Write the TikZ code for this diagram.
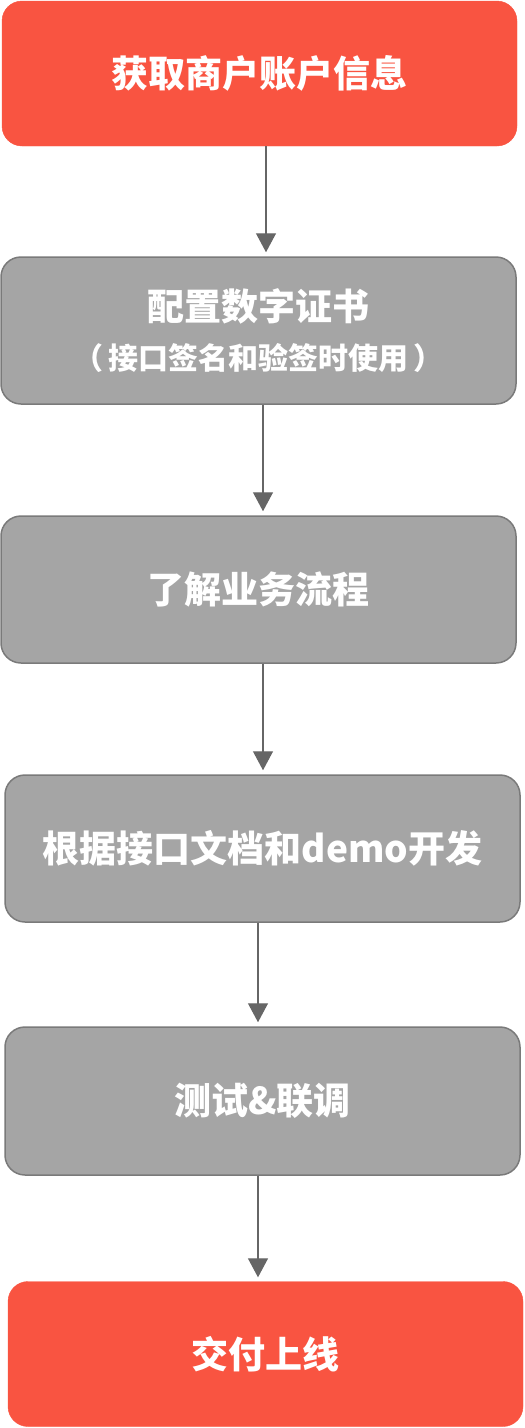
\documentclass[tikz,border=0pt]{standalone}
\usepackage{fontspec}
\setmainfont{Noto Sans CJK SC}
\usetikzlibrary{arrows.meta, positioning}
\definecolor{stepred}{HTML}{F95441}
\definecolor{stepgray}{HTML}{A5A5A5}
\definecolor{stepedge}{HTML}{7A7A7A}
\definecolor{arrowgray}{HTML}{666666}
\tikzset{
    startstop/.style={
        rectangle,
        rounded corners=20pt,
        draw=stepred,
        fill=stepred,
        minimum width=515pt,
        minimum height=145pt,
        align=center,
        text=white,
        font=\bfseries\fontsize{37}{44}\selectfont
    },
    process/.style={
        rectangle,
        rounded corners=20pt,
        draw=stepedge,
        line width=1.5pt,
        fill=stepgray,
        minimum width=515pt,
        minimum height=147pt,
        align=center,
        text=white,
        font=\bfseries\fontsize{37}{44}\selectfont
    },
    arrow/.style={
        -{Triangle[length=19pt, width=20pt]},
        draw=arrowgray,
        fill=arrowgray,
        line width=1.3pt,
        shorten >=4pt
    }
}
\begin{document}
\begin{tikzpicture}[x=1pt, y=1pt]
    \useasboundingbox (0,0) rectangle (525,-1428);

    % Start
    \node[startstop] (info) at (259.5, -73.5) {获取商户账户信息};

    % Steps
    \node[process] (cert) at (258.5, -330.5) {配置数字证书\\[5pt]{\fontsize{30}{36}\selectfont （\hspace{5pt}接口签名和验签时使用\hspace{5pt}）}};
    \node[process] (flow) at (258.5, -589.5) {了解业务流程};
    \node[process] (dev) at (262.5, -848.5) {根据接口文档和demo开发};
    \node[process, minimum height=148pt] (test) at (262.5, -1101) {测试\&联调};

    % End
    \node[startstop] (launch) at (265.5, -1354) {交付上线};

    % Arrows
    \draw[arrow] ([xshift=6.5pt]info.south) -- ([xshift=7.5pt]cert.north);
    \draw[arrow] ([xshift=4.5pt]cert.south) -- ([xshift=4.5pt]flow.north);
    \draw[arrow] ([xshift=4.5pt]flow.south) -- ([xshift=0.5pt]dev.north);
    \draw[arrow] ([xshift=-4.5pt]dev.south) -- ([xshift=-4.5pt]test.north);
    \draw[arrow] ([xshift=-4.5pt]test.south) -- ([xshift=-7.5pt]launch.north);

\end{tikzpicture}
\end{document}
